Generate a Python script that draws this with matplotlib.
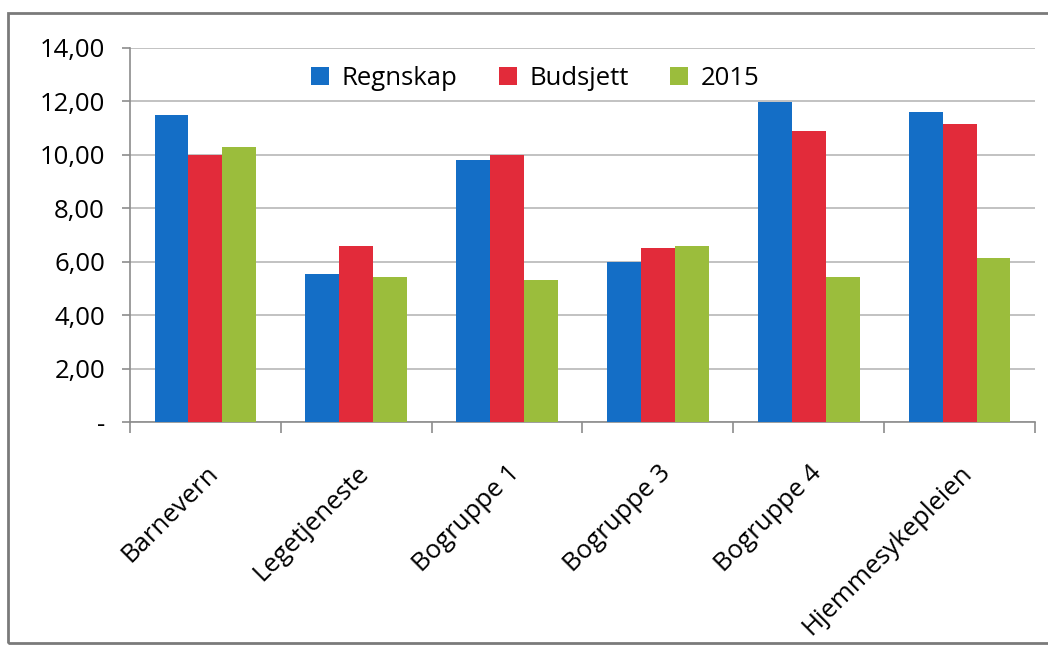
import matplotlib
matplotlib.use('Agg')
import matplotlib.pyplot as plt
import numpy as np
from matplotlib.patches import Rectangle

plt.rcParams['font.family'] = ['Open Sans', 'DejaVu Sans']

categories = ['Barnevern', 'Legetjeneste', 'Bogruppe 1', 'Bogruppe 3', 'Bogruppe 4', 'Hjemmesykepleien']
regnskap = [11.48, 5.53, 9.80, 6.00, 11.96, 11.59]
budsjett = [10.00, 6.58, 9.98, 6.50, 10.88, 11.14]
aar2015 = [10.28, 5.42, 5.30, 6.58, 5.42, 6.13]
series_names = ['Regnskap', 'Budsjett', '2015']
colors = ['#146ec6', '#e22b3a', '#9bbd3c']

text_size = 18.5


def fmt(v, pos=None):
    if abs(v) < 1e-9:
        return '-'
    return ('%.2f' % v).replace('.', ',')


def main():
    fig = plt.figure(figsize=(10.48, 6.45), dpi=100)
    ax = fig.add_axes([130 / 1048, 1 - 422 / 645, (1035 - 130) / 1048, (422 - 48) / 645])

    x = np.arange(len(categories))
    w = 0.225
    for i, (vals, color, name) in enumerate(zip([regnskap, budsjett, aar2015], colors, series_names)):
        ax.bar(x + (i - 1) * w, vals, width=w, color=color, label=name, zorder=3)

    ax.set_xlim(-0.5, len(categories) - 0.5)
    ax.set_ylim(0, 14)
    ax.set_yticks(np.arange(0, 15, 2))
    ax.yaxis.set_major_formatter(plt.FuncFormatter(fmt))
    ax.grid(axis='y', color='#b8b8b8', linewidth=1.2, zorder=0)

    ax.set_xticks(x)
    ax.set_xticklabels(categories, rotation=45, ha='right', va='top', rotation_mode='anchor')
    ax.set_xticks(np.arange(-0.5, len(categories)), minor=True)
    ax.tick_params(axis='x', which='major', length=0, pad=28, labelsize=text_size)
    ax.tick_params(axis='x', which='minor', length=8, color='#8c8c8c', width=1.2)
    ax.tick_params(axis='y', length=6, color='#8c8c8c', width=1.2, labelsize=text_size, pad=12)

    for s in ['top', 'right']:
        ax.spines[s].set_visible(False)
    for s in ['left', 'bottom']:
        ax.spines[s].set_color('#8c8c8c')
        ax.spines[s].set_linewidth(1.2)

    ax.legend(loc='upper center', bbox_to_anchor=(0.448, 1.015), ncol=3, frameon=False,
              fontsize=text_size, handlelength=0.7, handleheight=0.7, columnspacing=1.6,
              handletextpad=0.5)

    # outer chart frame
    fig.patches.append(Rectangle((8 / 1048, 2 / 645), 1.2, 1 - 15 / 645, transform=fig.transFigure,
                                 fill=False, edgecolor='#7a7a7a', linewidth=2))

    fig.savefig('out.png', dpi=100)


if __name__ == '__main__':
    main()
